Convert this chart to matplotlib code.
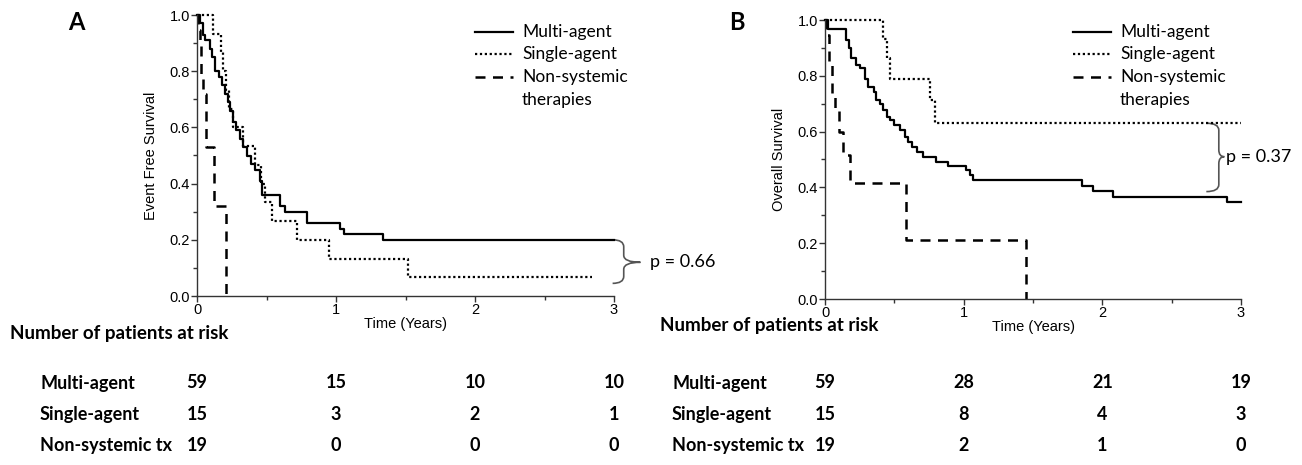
import numpy as np
import matplotlib
matplotlib.use("Agg")
import matplotlib.pyplot as plt
from matplotlib.lines import Line2D
from matplotlib.path import Path
from matplotlib.patches import PathPatch

# ---- data ----
groups = ["Multi-agent", "Single-agent", "Non-systemic\ntherapies"]
risk_labels = ["Multi-agent", "Single-agent", "Non-systemic tx"]
risk_times = [0, 1, 2, 3]

# Panel A: event free survival (step change times / level after step)
a_multi_t = [0, 0.02, 0.04, 0.06, 0.09, 0.11, 0.13, 0.16, 0.18, 0.20, 0.22, 0.24, 0.26, 0.28,
             0.31, 0.33, 0.36, 0.39, 0.42, 0.45, 0.47, 0.60, 0.63, 0.79, 1.03, 1.06, 1.34, 3.0]
a_multi_s = [1.0, 0.97, 0.93, 0.91, 0.88, 0.85, 0.80, 0.78, 0.75, 0.72, 0.69, 0.66, 0.62, 0.59,
             0.56, 0.53, 0.50, 0.47, 0.45, 0.41, 0.36, 0.32, 0.30, 0.26, 0.24, 0.22, 0.20, 0.20]
a_single_t = [0, 0.117, 0.17, 0.19, 0.21, 0.23, 0.26, 0.33, 0.42, 0.46, 0.49, 0.54, 0.72, 0.95, 1.52, 2.84]
a_single_s = [1.0, 0.933, 0.867, 0.80, 0.733, 0.667, 0.60, 0.533, 0.467, 0.40, 0.333, 0.267, 0.20,
              0.133, 0.067, 0.067]
a_nonsys_t = [0, 0.01, 0.02, 0.03, 0.045, 0.065, 0.12, 0.21]
a_nonsys_s = [1.0, 0.947, 0.89, 0.79, 0.72, 0.53, 0.32, 0.0]
a_risk = [[59, 15, 10, 10], [15, 3, 2, 1], [19, 0, 0, 0]]
a_p = "p = 0.66"

# Panel B: overall survival
b_multi_t = [0, 0.024, 0.15, 0.17, 0.19, 0.22, 0.25, 0.29, 0.31, 0.35, 0.37, 0.40, 0.42, 0.45, 0.47,
             0.50, 0.54, 0.58, 0.60, 0.63, 0.66, 0.71, 0.80, 0.89, 1.02, 1.045, 1.07, 1.85, 1.935,
             2.08, 2.90, 3.0]
b_multi_s = [1.0, 0.967, 0.93, 0.90, 0.863, 0.84, 0.827, 0.79, 0.76, 0.743, 0.713, 0.70, 0.677,
             0.653, 0.64, 0.624, 0.606, 0.582, 0.564, 0.546, 0.528, 0.51, 0.492, 0.478, 0.462,
             0.444, 0.427, 0.405, 0.388, 0.367, 0.347, 0.347]
b_single_t = [0, 0.416, 0.445, 0.469, 0.757, 0.793, 3.0]
b_single_s = [1.0, 0.933, 0.863, 0.789, 0.713, 0.63, 0.63]
b_nonsys_t = [0, 0.007, 0.03, 0.05, 0.07, 0.10, 0.13, 0.18, 0.584, 1.45]
b_nonsys_s = [1.0, 0.947, 0.842, 0.737, 0.684, 0.60, 0.516, 0.415, 0.211, 0.0]
b_risk = [[59, 28, 21, 19], [15, 8, 4, 3], [19, 2, 1, 0]]
b_p = "p = 0.37"

W, H = 1302, 465
styles = [dict(ls="-", lw=1.6), dict(ls=(0, (1, 1.2)), lw=1.6), dict(ls=(0, (4, 3)), lw=1.8)]
tick_font = "Liberation Sans"
txt_font = "Lato"


def P(x, y):
    return x / W, 1 - y / H


def brace(ax, x0, xs, xn, ytop, ybot, ymid):
    h = 0.025
    verts = [(x0, ytop), (xs, ytop), (xs, ytop - h), (xs, ymid + h), (xs, ymid), (xn, ymid),
             (xs, ymid), (xs, ymid - h), (xs, ybot + h), (xs, ybot), (x0, ybot)]
    codes = [Path.MOVETO, Path.CURVE3, Path.CURVE3, Path.LINETO, Path.CURVE3, Path.CURVE3,
             Path.CURVE3, Path.CURVE3, Path.LINETO, Path.CURVE3, Path.CURVE3]
    ax.add_patch(PathPatch(Path(verts, codes), fc="none", ec="#555555", lw=1.2, clip_on=False))


fig = plt.figure(figsize=(W / 100, H / 100), dpi=100)


def panel(rect, curves, ylabel, letter, letter_xy, leg_x, risk, risk_x, risk_title_xy, p, br):
    ax = fig.add_axes(rect)
    for (t, s), st in zip(curves, styles):
        ax.step(t, s, where="post", color="black", clip_on=False, **st)
    ax.set_xlim(0, 3)
    ax.set_ylim(0, 1)
    ax.set_xticks([0, 1, 2, 3])
    ax.set_xticks([0.5, 1.5, 2.5], minor=True)
    ax.set_yticks(np.arange(0, 1.01, 0.2))
    ax.set_yticks(np.arange(0.1, 1.0, 0.2), minor=True)
    ax.yaxis.set_major_formatter(plt.FormatStrFormatter("%.1f"))
    for sp in ["top", "right"]:
        ax.spines[sp].set_visible(False)
    for sp in ["left", "bottom"]:
        ax.spines[sp].set_color("#333333")
        ax.spines[sp].set_linewidth(1.0)
    ax.tick_params(which="both", direction="out", color="#333333", width=1.0, labelsize=10.5, pad=1)
    ax.tick_params(which="major", length=4)
    ax.tick_params(which="minor", length=3)
    for lab in ax.get_xticklabels() + ax.get_yticklabels():
        lab.set_fontfamily(tick_font)
    ax.set_xlabel("Time (Years)", fontsize=10.5, fontfamily=tick_font, labelpad=0)
    ax.set_ylabel(ylabel, fontsize=10.5, fontfamily=tick_font, labelpad=8)

    fig.text(*P(*letter_xy), letter, fontsize=17, fontweight="bold", fontfamily=txt_font,
             ha="center", va="center")
    # legend
    for i, (g, st) in enumerate(zip(groups, styles)):
        y = 32 + 22.5 * i
        fig.add_artist(Line2D([leg_x / W, (leg_x + 38) / W], [1 - y / H] * 2, color="black",
                              ls=st["ls"], lw=st["lw"]))
        for j, part in enumerate(g.split("\n")):
            fig.text(*P(leg_x + 47, y + 22.5 * j), part, fontsize=12.5,
                     fontfamily=txt_font, ha="left", va="center")
    # brace + p value
    x0, xs, xn, yt, yb, ym, xt = br
    brace(ax, x0, xs, xn, yt, yb, ym)
    ax.text(xt, ym, p, fontsize=13, fontfamily=txt_font, ha="left", va="center")
    # risk table
    fig.text(*P(*risk_title_xy), "Number of patients at risk", fontsize=13.5, fontweight="bold",
             fontfamily=txt_font, ha="left", va="center")
    for i, (lab, row) in enumerate(zip(risk_labels, risk)):
        y = 383 + 31 * i
        fig.text(*P(risk_x, y), lab, fontsize=13, fontweight="bold", fontfamily=txt_font,
                 ha="left", va="center")
        for tt, n in zip(risk_times, row):
            xf = ax.transData.transform((tt, 0))[0] / W / (fig.dpi / 100)
            fig.text(xf, 1 - y / H, str(n), fontsize=13, fontweight="bold", fontfamily=txt_font,
                     ha="center", va="center")
    return ax


panel([197 / W, 1 - 296 / H, 417 / W, 281 / H],
      [(a_multi_t, a_multi_s), (a_single_t, a_single_s), (a_nonsys_t, a_nonsys_s)],
      "Event Free Survival", "A", (76, 22), 475, a_risk, 40, (10, 334), a_p,
      (2.99, 3.07, 3.19, 0.2, 0.045, 0.12, 3.26))
panel([825 / W, 1 - 299 / H, 416 / W, 279 / H],
      [(b_multi_t, b_multi_s), (b_single_t, b_single_s), (b_nonsys_t, b_nonsys_s)],
      "Overall Survival", "B", (737, 22), 1073, b_risk, 672, (660, 326), b_p,
      (2.75, 2.84, 2.88, 0.63, 0.385, 0.51, 2.89))

fig.savefig("out.png", dpi=100)
